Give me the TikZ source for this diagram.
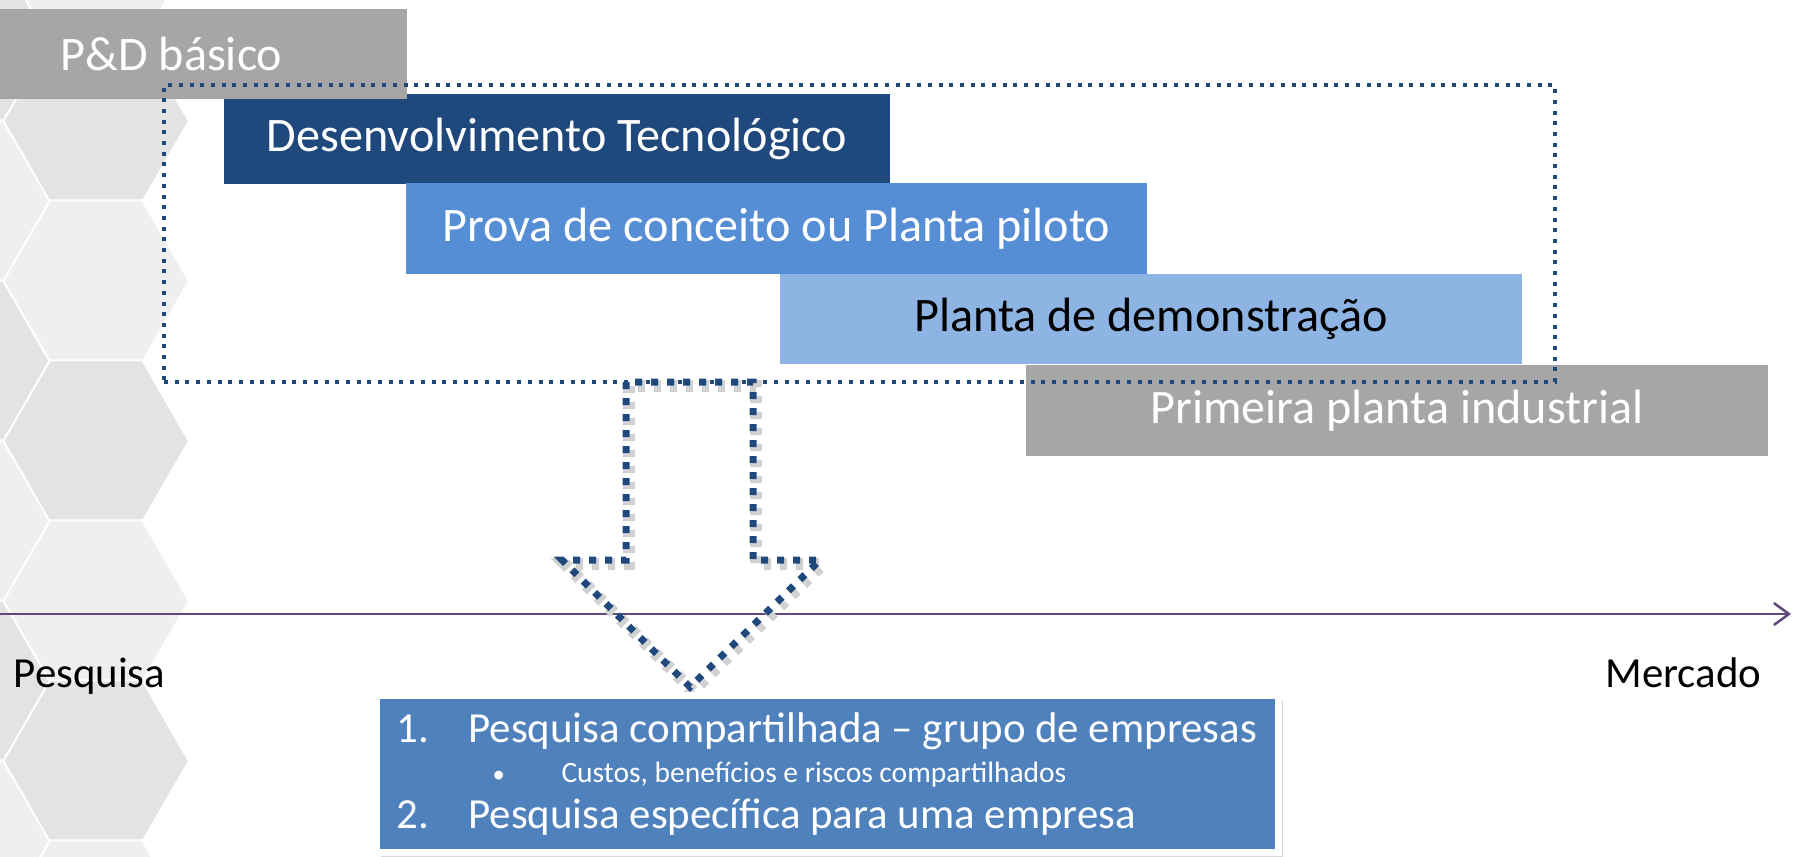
\documentclass[tikz,border=0pt]{standalone}
\usepackage{fontspec}
\setmainfont{Carlito}
\usetikzlibrary{calc,arrows.meta,shadows}

\definecolor{pdgray}{HTML}{A6A6A6}
\definecolor{devblue}{HTML}{1F497D}
\definecolor{provablue}{HTML}{558ED5}
\definecolor{demoblue}{HTML}{8EB4E3}
\definecolor{listblue}{HTML}{4F81BD}
\definecolor{axispurple}{HTML}{604A7B}
\definecolor{hexdark}{HTML}{E3E3E3}
\definecolor{hexlight}{HTML}{EFEFEF}

\begin{document}
\begin{tikzpicture}[
    phase/.style={minimum height=0.9cm, inner sep=0pt, text=white, font=\fontsize{13.7}{16}\selectfont},
    dotframe/.style={draw=devblue, line width=0.4mm, dash pattern=on 0.4mm off 0.67mm},
    dotarrow/.style={draw=devblue, line width=0.7mm, dash pattern=on 0.7mm off 0.9mm,
        preaction={draw=black!18, line width=1.2mm, dash pattern=on 0.7mm off 0.9mm, transform canvas={shift={(0.3mm,-0.4mm)}}}},
    hexcell/.style={draw=white, line width=0.2mm},
    label/.style={inner sep=0pt, font=\fontsize{12.2}{14}\selectfont}
]
\useasboundingbox (0,0) rectangle (17.93,8.56);

% Honeycomb background
\foreach \cy/\col in {8.95/hexlight, 7.35/hexdark, 5.75/hexlight, 4.15/hexdark, 2.55/hexlight, 0.95/hexdark, -0.65/hexlight}
    \filldraw[hexcell, fill=\col] (0.96,\cy) +(0:0.93) -- +(60:0.93) -- +(120:0.93) -- +(180:0.93) -- +(240:0.93) -- +(300:0.93) -- cycle;
\foreach \cy/\col in {8.15/hexdark, 6.55/hexlight, 4.95/hexdark, 3.35/hexlight, 1.75/hexdark, 0.15/hexlight}
    \filldraw[hexcell, fill=\col] (-0.435,\cy) +(0:0.93) -- +(60:0.93) -- +(120:0.93) -- +(180:0.93) -- +(240:0.93) -- +(300:0.93) -- cycle;

% Phases
\node[phase, fill=devblue, minimum width=6.66cm] (dev) at (5.57,7.17) {Desenvolvimento Tecnológico};
\node[phase, fill=pdgray, minimum width=4.71cm] (pd) at (1.715,8.02) {P\&D básico};
\node[phase, fill=provablue, minimum width=7.41cm, minimum height=0.91cm] (prova) at (7.765,6.275) {Prova de conceito ou Planta piloto};
\node[phase, fill=demoblue, text=black, minimum width=7.42cm] (demo) at (11.51,5.37) {Planta de demonstração};
\node[phase, fill=pdgray, minimum width=7.42cm, minimum height=0.91cm] (ind) at (13.97,4.455) {Primeira planta industrial};

% Dotted frame
\node[dotframe, minimum width=13.91cm, minimum height=2.97cm, inner sep=0pt] (frame) at (8.595,6.225) {};

% Axis
\coordinate (axisL) at (0,2.42);
\coordinate (axisR) at (17.91,2.42);
\draw[axispurple, line width=0.25mm, -{Straight Barb[length=1.5mm, width=2.2mm]}] (axisL) -- (axisR);
\node[label, anchor=base west] (pesq) at (0.13,1.69) {Pesquisa};
\node[label, anchor=base east] (merc) at (17.62,1.69) {Mercado};

% Down arrow
\draw[dotarrow] (6.26,4.74) -- (6.26,2.96) -- (5.62,2.96) -- (6.90,1.69) -- (8.20,2.96) -- (7.53,2.96) -- (7.53,4.74) -- cycle;

% Options
\node[fill=listblue, draw=white, line width=0.7mm, text=white, align=flush left,
      text width=8.62cm, inner xsep=2mm, minimum height=1.57cm,
      drop shadow={opacity=0.3, shadow xshift=0.4mm, shadow yshift=-0.4mm},
      font=\fontsize{12.2}{11.4}\selectfont] (list) at (8.275,0.82) {
    \makebox[7.2mm][l]{1.}Pesquisa compartilhada – grupo de empresas\\
    {\fontsize{8.4}{10}\selectfont\hspace*{9.6mm}\makebox[6.9mm][l]{\fontsize{7}{8}\selectfont•}Custos, benefícios e riscos compartilhados}\\[1.7pt]
    \makebox[7.2mm][l]{2.}Pesquisa específica para uma empresa
};

\end{tikzpicture}
\end{document}
